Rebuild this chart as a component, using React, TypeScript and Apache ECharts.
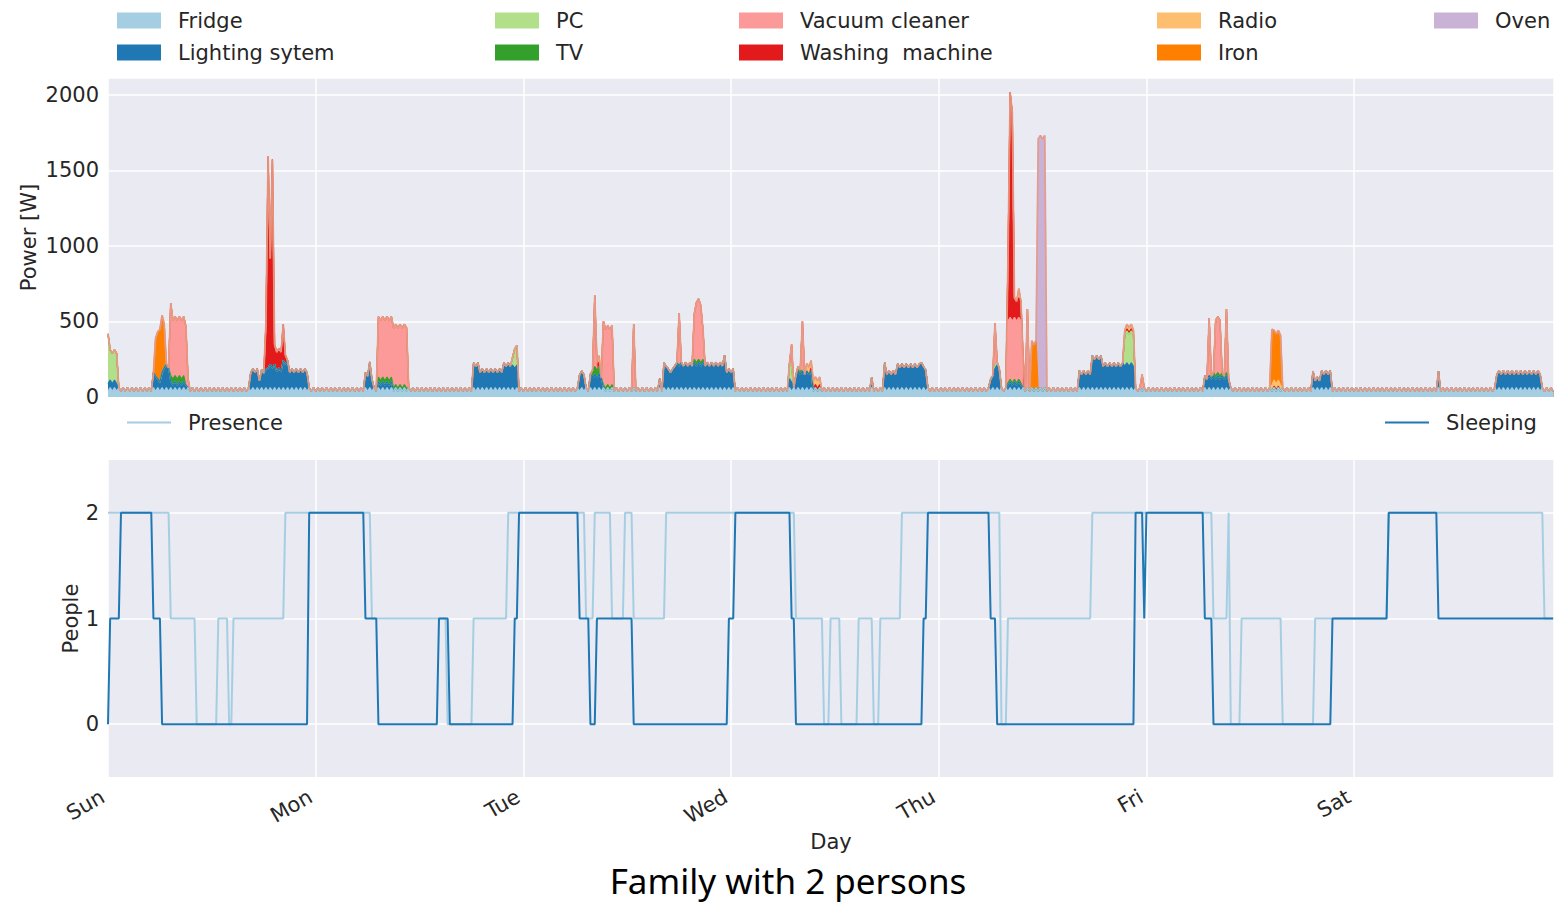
import React, { useEffect, useRef } from "react";
import * as echarts from "echarts";

// Time grid: one sample every 15 minutes, hours from Sunday 00:00
const STEP_H = 0.25;
const SAMPLE_COUNT = 669;
const X_MAX = 167.1;

const dayLabels = ["Sun", "Mon", "Tue", "Wed", "Thu", "Fri", "Sat"];

// Fridge compressor cycle (W), repeating every two samples
const fridgeCycle = [38, 62];

// Appliance activity as [startHour, endHour, watts]
const lighting: number[][] = [
  [0, 1.25, 50],
  [5.25, 5.75, 100], [5.75, 6.25, 60], [6.25, 6.5, 100], [6.5, 7.25, 155], [7.25, 9.25, 40],
  [16.5, 17.5, 125], [17.5, 17.75, 70], [17.75, 18.5, 120], [18.5, 19.5, 155], [19.5, 20.25, 130],
  [20.25, 21.0, 180], [21.0, 23.25, 125],
  [29.75, 30.25, 100], [30.25, 30.5, 170], [30.5, 30.75, 80],
  [31.25, 33.0, 40],
  [42.25, 43.0, 165], [43.0, 45.75, 125], [45.75, 46.75, 165], [46.75, 47.5, 150],
  [54.5, 55.25, 110],
  [55.75, 57.25, 90],
  [63.75, 64.0, 60],
  [64.25, 64.75, 165], [64.75, 65.5, 125], [65.5, 71.25, 168], [71.25, 71.5, 215], [71.5, 72.5, 125],
  [78.75, 79.25, 60],
  [79.5, 81.5, 110],
  [88.25, 88.5, 70],
  [89.75, 90.0, 165], [90.0, 91.25, 113], [91.25, 94.0, 157], [94.0, 94.25, 190], [94.25, 94.75, 140],
  [102.0, 102.5, 80], [102.5, 103.25, 150],
  [104.0, 105.75, 40],
  [112.25, 113.75, 113], [113.75, 115.0, 212], [115.0, 118.75, 165],
  [126.75, 129.75, 80],
  [139.25, 139.5, 110], [139.5, 140.25, 70], [140.25, 141.5, 113],
  [153.75, 154.0, 110],
  [160.5, 165.75, 113],
];

const pc: number[][] = [
  [0, 0.25, 330], [0.25, 1.25, 200],
  [46.75, 47.0, 50], [47.0, 47.5, 130],
  [78.75, 79.25, 100],
  [102.5, 103.0, 20],
  [117.5, 118.75, 210],
];

const tv: number[][] = [
  [7.25, 9.0, 40],
  [31.25, 33.0, 30], [33.0, 34.75, 20],
  [56.0, 57.0, 50], [57.25, 58.5, 20],
  [67.75, 69.0, 20],
  [79.75, 80.25, 30],
  [104.0, 105.75, 15],
  [127.5, 129.5, 20],
];

const vacuum: number[][] = [
  [7.25, 7.5, 480], [7.5, 9.25, 390], [9.25, 9.5, 60],
  [31.25, 34.75, 400],
  [56.25, 56.5, 470],
  [57.25, 57.5, 420], [57.5, 58.5, 390],
  [60.75, 61.0, 420],
  [66.0, 66.25, 350],
  [67.75, 68.0, 300], [68.0, 68.5, 400], [68.5, 68.75, 380], [68.75, 69.0, 200],
  [79.0, 79.25, 150],
  [80.25, 80.5, 330],
  [102.5, 102.75, 280],
  [104.0, 105.75, 410],
  [106.25, 106.5, 520],
  [119.5, 119.75, 110],
  [127.25, 127.5, 380], [128.0, 128.75, 370], [129.25, 129.5, 420],
];

const washing: number[][] = [
  [18.25, 18.5, 300], [18.5, 18.75, 1400], [18.75, 19.0, 700], [19.0, 19.25, 1380],
  [19.25, 20.25, 130], [20.25, 20.5, 240], [20.5, 20.75, 60],
  [56.5, 57.0, 30],
  [81.25, 82.5, 20],
  [104.0, 104.25, 400], [104.25, 104.5, 1490], [104.5, 104.75, 1380], [104.75, 105.75, 130],
  [105.75, 106.0, 200],
  [117.75, 118.5, 15],
  [134.75, 135.5, 10],
];

const radio: number[][] = [
  [56.5, 57.0, 40],
  [80.75, 82.5, 50],
  [105.25, 105.5, 60],
  [117.5, 118.75, 30],
  [134.5, 135.75, 40],
];

const iron: number[][] = [
  [5.5, 5.75, 250], [5.75, 6.0, 310], [6.0, 6.25, 350], [6.25, 6.5, 380], [6.5, 6.75, 290],
  [106.75, 107.5, 310],
  [134.5, 134.75, 370], [134.75, 135.75, 330],
];

const oven: number[][] = [[107.5, 108.5, 1670]];

// Number of people as [hour, value] change points
const presence: number[][] = [
  [0, 2], [7.25, 1], [10.25, 0], [12.75, 1], [14.0, 0], [14.5, 1], [20.5, 2],
  [30.5, 1], [39.25, 0], [42.25, 1], [46.25, 2], [55.25, 1], [56.25, 2], [58.25, 1],
  [59.75, 2], [60.75, 1], [64.5, 2], [79.5, 1], [82.75, 0], [83.5, 1], [84.75, 0],
  [86.75, 1], [88.5, 0], [89.25, 1], [91.75, 2], [103.25, 0], [104.0, 1], [113.75, 2],
  [127.75, 1], [129.5, 2], [129.75, 0], [131.0, 1], [135.75, 0], [139.5, 1], [148.0, 2],
  [166.0, 1],
];

const sleeping: number[][] = [
  [0, 0], [0.25, 1], [1.5, 2], [5.25, 1], [6.25, 0], [23.25, 2], [29.75, 1], [31.25, 0],
  [38.25, 1], [39.5, 0], [47.0, 1], [47.5, 2], [54.5, 1], [55.75, 0], [56.5, 1], [60.75, 0],
  [71.75, 1], [72.5, 2], [79.0, 1], [79.5, 0], [94.25, 1], [94.75, 2], [102.0, 1], [102.75, 0],
  [118.75, 2], [119.75, 1], [120.0, 2], [126.75, 1], [127.75, 0], [141.5, 1], [148.0, 2],
  [153.75, 1],
];

const times = Array.from({ length: SAMPLE_COUNT }, (_, i) => i * STEP_H);

function fromSegments(segs: number[][]): number[] {
  return times.map((t) =>
    segs.reduce((s, [a, b, w]) => (t >= a - 1e-6 && t < b - 1e-6 ? s + w : s), 0)
  );
}

function fromChanges(changes: number[][]): number[] {
  return times.map((t) => {
    let v = changes[0][1];
    for (const [h, val] of changes) if (t >= h - 1e-6) v = val;
    return v;
  });
}

const fridgeValues = times.map((_, i) => fridgeCycle[i % fridgeCycle.length]);

// Bottom-to-top stacking order
const appliances = [
  { name: "Fridge", color: "#a6cee3", values: fridgeValues },
  { name: "Lighting sytem", color: "#1f78b4", values: fromSegments(lighting) },
  { name: "PC", color: "#b2df8a", values: fromSegments(pc) },
  { name: "TV", color: "#33a02c", values: fromSegments(tv) },
  { name: "Vacuum cleaner", color: "#fb9a99", values: fromSegments(vacuum) },
  { name: "Washing  machine", color: "#e31a1c", values: fromSegments(washing) },
  { name: "Radio", color: "#fdbf6f", values: fromSegments(radio) },
  { name: "Iron", color: "#ff7f00", values: fromSegments(iron) },
  { name: "Oven", color: "#cab2d6", values: fromSegments(oven) },
];

// Cumulative sums: each layer's upper edge
const cumulative: number[][] = [];
appliances.forEach((a, k) => {
  cumulative.push(a.values.map((v, i) => v + (k > 0 ? cumulative[k - 1][i] : 0)));
});
const totalPower = cumulative[cumulative.length - 1];

const TEXT = "#262626";
const FONT = "DejaVu Sans";

export default function App() {
  const ref = useRef<HTMLDivElement>(null);

  useEffect(() => {
    document.body.style.margin = "0";
    if (!ref.current) return;
    const chart = echarts.init(ref.current, undefined, { renderer: "svg" });

    const dayAxis = (gridIndex: number, labelled: boolean) => ({
      type: "value",
      gridIndex,
      min: 0,
      max: X_MAX,
      interval: 24,
      axisLine: { show: false },
      axisTick: { show: false },
      splitLine: { show: true, lineStyle: { color: "#ffffff", width: 1.5 } },
      axisLabel: labelled
        ? {
            show: true,
            rotate: 30,
            fontSize: 21,
            fontFamily: FONT,
            color: TEXT,
            margin: 15,
            padding: [0, 6, 0, 0],
            showMaxLabel: false,
            formatter: (v: number) => {
              const d = Math.round(v / 24);
              return Math.abs(v - d * 24) < 1e-6 && d < dayLabels.length ? dayLabels[d] : "";
            },
          }
        : { show: false },
      name: labelled ? "Day" : "",
      nameLocation: "middle",
      nameGap: 54,
      nameMoveOverlap: false,
      nameTextStyle: { fontSize: 21, fontFamily: FONT, color: TEXT },
    });

    const legendColumns = [
      ["Fridge", "Lighting sytem"],
      ["PC", "TV"],
      ["Vacuum cleaner", "Washing  machine"],
      ["Radio", "Iron"],
      ["Oven"],
    ];
    const legendLefts = [112, 490, 734, 1152, 1429];

    const legendBase = {
      orient: "vertical",
      top: 5,
      itemWidth: 44,
      itemHeight: 16,
      itemGap: 11,
      icon: "rect",
      selectedMode: false,
      textStyle: { fontSize: 21, fontFamily: FONT, color: TEXT, lineHeight: 16, padding: [0, 0, 0, 12] },
    };

    // Paint the tallest layer first so each lower layer covers the part below its edge
    const areaSeries = appliances
      .map((a, k) => ({
        name: a.name,
        type: "line",
        xAxisIndex: 0,
        yAxisIndex: 0,
        data: times.map((t, i) => [t, cumulative[k][i]]),
        symbol: "none",
        showSymbol: false,
        silent: true,
        itemStyle: { color: a.color },
        lineStyle: { width: 1.2, color: a.color },
        areaStyle: { color: a.color, opacity: 1 },
        emphasis: { disabled: true },
        z: 2,
      }))
      .reverse();

    const option: any = {
      animation: false,
      textStyle: { fontFamily: FONT },
      grid: [
        { left: 108, top: 78, width: 1446, height: 319, show: true, backgroundColor: "#EAEAF2", borderWidth: 0 },
        { left: 108, top: 460, width: 1446, height: 317, show: true, backgroundColor: "#EAEAF2", borderWidth: 0 },
      ],
      legend: [
        ...legendColumns.map((col, i) => ({ ...legendBase, left: legendLefts[i], data: col })),
        { ...legendBase, top: 407, left: 122, itemHeight: 2, data: ["Presence"] },
        { ...legendBase, top: 407, left: 1380, itemHeight: 2, data: ["Sleeping"] },
      ],
      xAxis: [dayAxis(0, false), dayAxis(1, true)],
      yAxis: [
        {
          type: "value",
          gridIndex: 0,
          min: 0,
          max: 2112,
          interval: 500,
          axisLine: { show: false },
          axisTick: { show: false },
          splitLine: { show: true, lineStyle: { color: "#ffffff", width: 1.5 } },
          axisLabel: {
            fontSize: 21,
            fontFamily: FONT,
            color: TEXT,
            margin: 9,
            showMaxLabel: false,
            formatter: (v: number) => String(v),
          },
          name: "Power [W]",
          nameLocation: "middle",
          nameRotate: 90,
          nameGap: 69,
          nameMoveOverlap: false,
          nameTextStyle: { fontSize: 21, fontFamily: FONT, color: TEXT },
        },
        {
          type: "value",
          gridIndex: 1,
          min: -0.5,
          max: 2.5,
          interval: 0.5,
          axisLine: { show: false },
          axisTick: { show: false },
          splitLine: {
            show: true,
            lineStyle: { color: ["rgba(255,255,255,0)", "#ffffff"], width: 1.5 },
          },
          axisLabel: {
            fontSize: 21,
            fontFamily: FONT,
            color: TEXT,
            margin: 9,
            showMinLabel: false,
            showMaxLabel: false,
            formatter: (v: number) => (Math.abs(v - Math.round(v)) < 1e-6 ? String(Math.round(v)) : ""),
          },
          name: "People",
          nameLocation: "middle",
          nameRotate: 90,
          nameGap: 27,
          nameMoveOverlap: false,
          nameTextStyle: { fontSize: 21, fontFamily: FONT, color: TEXT },
        },
      ],
      series: [
        ...areaSeries,
        {
          name: "total",
          type: "line",
          xAxisIndex: 0,
          yAxisIndex: 0,
          data: times.map((t, i) => [t, totalPower[i]]),
          symbol: "none",
          silent: true,
          lineStyle: { width: 1.8, color: "#e69a86", opacity: 0.9 },
          emphasis: { disabled: true },
          z: 3,
        },
        {
          name: "Presence",
          type: "line",
          xAxisIndex: 1,
          yAxisIndex: 1,
          data: fromChanges(presence).map((v, i) => [times[i], v]),
          symbol: "none",
          silent: true,
          itemStyle: { color: "#a6cee3" },
          lineStyle: { width: 2, color: "#a6cee3" },
          emphasis: { disabled: true },
          z: 2,
        },
        {
          name: "Sleeping",
          type: "line",
          xAxisIndex: 1,
          yAxisIndex: 1,
          data: fromChanges(sleeping).map((v, i) => [times[i], v]),
          symbol: "none",
          silent: true,
          itemStyle: { color: "#1f78b4" },
          lineStyle: { width: 2, color: "#1f78b4" },
          emphasis: { disabled: true },
          z: 3,
        },
      ],
      graphic: [
        {
          type: "text",
          x: 788,
          y: 880,
          style: {
            text: "Family with 2 persons",
            fontSize: 35,
            fontFamily: "Noto Sans",
            fill: "#000000",
            align: "center",
            verticalAlign: "middle",
          },
        },
      ],
    };

    chart.setOption(option);
    return () => chart.dispose();
  }, []);

  return <div ref={ref} style={{ width: 1554, height: 903, background: "#ffffff" }} />;
}
